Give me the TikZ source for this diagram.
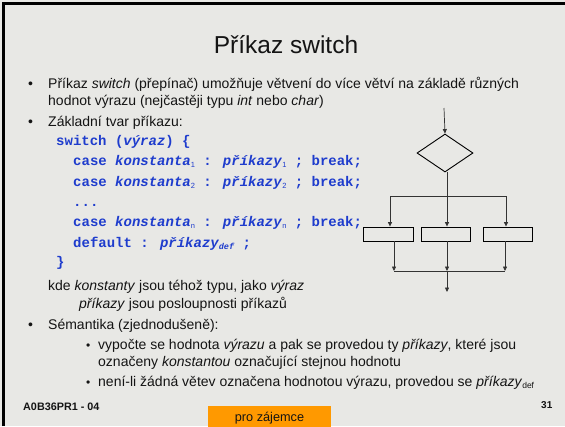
\documentclass[tikz,border=0pt]{standalone}
\usepackage{fontspec}
\setmainfont{Liberation Sans}
\newfontfamily\codefont{Liberation Mono}
\usetikzlibrary{shapes.geometric,arrows.meta}
\definecolor{bg}{RGB}{232,232,229}
\definecolor{codeblue}{RGB}{30,60,205}
\definecolor{orng}{RGB}{255,153,0}
\definecolor{ink}{RGB}{20,20,20}
\newcommand{\csub}[1]{\raisebox{-2.5pt}{\fontsize{7.5}{7.5}\selectfont\rmfamily\mdseries\upshape #1}}
\newcommand{\dsub}[1]{\raisebox{-2.5pt}{\fontsize{8.5}{8.5}\selectfont #1}}
\tikzset{
  txt/.style={anchor=base west, inner sep=0pt, text=ink, font=\fontsize{14}{16}\selectfont},
  bul/.style={anchor=base west, inner sep=0pt, text=ink, font=\fontsize{14}{16}\selectfont},
  sbul/.style={anchor=base west, inner sep=0pt, text=ink, font=\fontsize{12}{14}\selectfont},
  code/.style={anchor=base west, inner sep=0pt, text=codeblue, font=\codefont\bfseries\fontsize{14}{16}\selectfont},
  arr/.style={draw=black!80, line width=0.7pt, -{Triangle[length=4.5pt,width=4pt]}},
  ln/.style={draw=black!80, line width=0.7pt},
  boxx/.style={draw=black, line width=0.9pt, minimum width=49pt, minimum height=14pt, inner sep=0pt},
}
\begin{document}
\begin{tikzpicture}[x=1pt,y=1pt]
\useasboundingbox (0,0) rectangle (565,-426);
\fill[bg] (0,0) rectangle (565,-426);
\draw[line width=3pt] (3.5,-426) -- (3.5,-3) -- (565,-3);
% orange box
\fill[orng] (208,-406) rectangle (331,-430);
\node[anchor=base, inner sep=0pt, text=ink, font=\fontsize{12.7}{14}\selectfont] (pz) at (269.5,-421) {pro zájemce};
% title
\node[anchor=base, inner sep=0pt, text=ink, font=\fontsize{24.5}{28}\selectfont] (title) at (286,-53) {Příkaz switch};
% bullets
\node[bul] (bu1) at (28,-88) {•};
\node[txt] (t1) at (48,-88) {Příkaz \textit{switch} (přepínač) umožňuje větvení do více větví na základě různých};
\node[txt] (t1b) at (48,-105) {hodnot výrazu (nejčastěji typu \textit{int} nebo \textit{char})};
\node[bul] (bu2) at (28,-126) {•};
\node[txt] (t2) at (48,-126) {Základní tvar příkazu:};
% code
\node[code] (c0) at (56,-145) {switch (\textit{výraz}) \{};
\node[code] (c1) at (73,-165) {case \textit{konstanta}\csub{1} : \textit{příkazy}\csub{1} ; break;};
\node[code] (c2) at (73,-186) {case \textit{konstanta}\csub{2} : \textit{příkazy}\csub{2} ; break;};
\node[code] (c3) at (73,-206) {...};
\node[code] (c4) at (73,-226) {case \textit{konstanta}\csub{n} : \textit{příkazy}\csub{n} ; break;};
\node[code] (c5) at (73,-247) {default : \textit{příkazy\dsub{def}} ;};
\node[code] (c6) at (56,-266) {\}};
% explanations
\node[txt] (k1) at (48,-290) {kde \textit{konstanty} jsou téhož typu, jako \textit{výraz}};
\node[txt] (k2) at (79,-308) {\textit{příkazy} jsou posloupnosti příkazů};
\node[bul] (bu3) at (28,-329) {•};
\node[txt] (s0) at (48,-329) {Sémantika (zjednodušeně):};
\node[sbul] (sb1) at (86,-349) {•};
\node[txt] (s1) at (98,-349) {vypočte se hodnota \textit{výrazu} a pak se provedou ty \textit{příkazy}, které jsou};
\node[txt] (s1b) at (98,-366) {označeny \textit{konstantou} označující stejnou hodnotu};
\node[sbul] (sb2) at (86,-386) {•};
\node[txt] (s2) at (98,-386) {není-li žádná větev označena hodnotou výrazu, provedou se \textit{příkazy}\dsub{def}};
% footer
\node[anchor=base west, inner sep=0pt, text=ink, font=\bfseries\fontsize{10.8}{12}\selectfont] (ft) at (23,-410) {A0B36PR1 - 04};
\node[anchor=base west, inner sep=0pt, text=ink, font=\bfseries\fontsize{10}{12}\selectfont] (pg) at (541,-408) {31};
% flowchart
\coordinate (in) at (444,-108);
\node[diamond, draw=black, line width=0.9pt, minimum width=56pt, minimum height=38pt, inner sep=0pt] (d) at (445,-153) {};
\draw[arr] (in) -- (d.north);
\coordinate (sp) at (447,-196);
\draw[ln] (d.south -| sp) -- (sp);
\coordinate (sl) at (390,-196);
\coordinate (sr) at (506,-196);
\draw[ln] (sl) -- (sr);
\node[boxx, minimum width=50pt] (b1) at (388,-234) {};
\node[boxx] (b2) at (445.5,-234) {};
\node[boxx] (b3) at (507.5,-234) {};
\draw[arr] (sl) -- (sl |- b1.north);
\draw[arr] (sp) -- (sp |- b2.north);
\draw[arr] (sr) -- (sr |- b3.north);
\coordinate (jl) at (394,-271);
\coordinate (jm) at (447,-271);
\coordinate (jr) at (505,-271);
\draw[arr] (jl |- b1.south) -- (jl);
\draw[arr] (jm |- b2.south) -- (jm);
\draw[arr] (jr |- b3.south) -- (jr);
\draw[ln] (jl) -- (jr);
\coordinate (out) at (447,-292);
\draw[arr] (jm) -- (out);
\end{tikzpicture}
\end{document}
